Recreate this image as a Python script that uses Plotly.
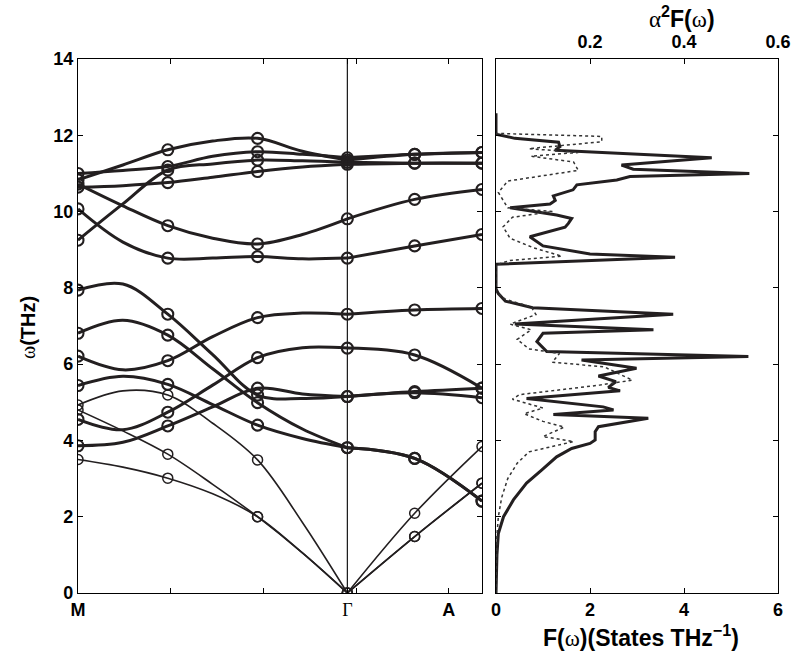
import plotly.graph_objects as go

# ---------------- band structure data ----------------
# x positions along path: M=0, Γ=3, A=4.5 (values read at these x)
x_path = [0, 0.5, 1, 1.5, 2, 2.5, 3, 3.75, 4.5]
marker_idx = [0, 2, 4, 6, 7, 8]   # sampled q-points (circles)
gamma_idx = 6

band_T1 = [10.83, 11.22, 11.62, 11.85, 11.92, 11.58, 11.35, 11.50, 11.55]
band_T2 = [11.00, 11.08, 11.18, 11.45, 11.57, 11.50, 11.41, 11.50, 11.55]
band_T3 = [9.25, 10.20, 11.09, 11.25, 11.35, 11.33, 11.29, 11.27, 11.27]
band_T4 = [10.64, 10.68, 10.76, 10.90, 11.05, 11.17, 11.24, 11.27, 11.27]
band_B98 = [10.72, 10.15, 9.63, 9.30, 9.15, 9.40, 9.81, 10.32, 10.58]
band_B88 = [10.07, 9.20, 8.78, 8.78, 8.82, 8.76, 8.78, 9.10, 9.40]
band_B79 = [7.94, 8.10, 7.31, 6.25, 5.19, 5.10, 5.15, 5.28, 5.37]
band_B68 = [6.81, 7.15, 6.76, 5.88, 4.99, 4.30, 3.81, 3.53, 2.41]
band_B62 = [6.21, 5.85, 6.09, 6.72, 7.22, 7.34, 7.31, 7.42, 7.46]
band_B54 = [5.44, 5.68, 5.47, 4.94, 4.40, 4.05, 3.81, 3.53, 2.41]
band_B45 = [4.55, 4.28, 4.74, 5.45, 6.17, 6.43, 6.42, 6.24, 5.37]
band_B38 = [3.86, 3.95, 4.38, 4.88, 5.37, 5.22, 5.15, 5.25, 5.12]
band_A1 = [3.50, 3.30, 3.01, 2.60, 2.00, 1.05, 0.00, 1.48, 2.88]
band_A2 = [4.80, 4.25, 3.64, 2.85, 2.00, 1.05, 0.00, 1.48, 2.88]
band_A3 = [4.93, 5.30, 5.19, 4.45, 3.49, 1.85, 0.00, 2.09, 3.84]

thick_bands = [band_T1, band_T2, band_T3, band_T4, band_B98, band_B88,
               band_B79, band_B68, band_B62, band_B54, band_B45, band_B38]
thin_bands = [band_A1, band_A2, band_A3]

# x tick positions / labels of the dispersion panel
path_tickvals = [0, 1.03, 2.07, 3.0, 3.1, 4.13]
path_ticktext = ['<b>M</b>', ' ', ' ',
                 '<span style="font-family:Liberation Serif;font-weight:normal">Γ</span>',
                 ' ', '<b>A</b>']

# ---------------- phonon DOS F(ω) ----------------
dos_freq = [0, 0.5, 1.0, 1.56, 2.0, 2.44, 2.88, 3.22, 3.57, 3.79, 3.92, 4.01, 4.23, 4.36,
            4.58, 4.68, 4.80, 4.88, 5.10, 5.30, 5.39, 5.54, 5.69, 5.89, 6.11, 6.20,
            6.33, 6.59, 6.81, 6.90, 7.05, 7.31, 7.48, 7.65, 7.85, 7.97, 8.62, 8.80,
            8.89, 9.10, 9.34, 9.59, 9.69, 9.82, 9.91, 10.10, 10.20, 10.29, 10.41,
            10.57, 10.70, 10.83, 10.92, 11.00, 11.11, 11.22, 11.41, 11.61, 11.70,
            11.82, 11.92, 12.03, 12.58]
dos_val = [0, 0.01, 0.02, 0.05, 0.16, 0.37, 0.65, 0.97, 1.29, 1.61, 2.00, 2.11, 2.11, 2.18,
           3.24, 1.22, 2.50, 2.28, 0.65, 2.64, 2.39, 2.55, 2.18, 2.99, 1.82, 5.37,
           1.08, 0.87, 1.00, 3.35, 0.40, 3.77, 0.78, 0.20, 0.05, 0.0, 0.0, 3.81,
           2.00, 1.00, 0.72, 1.47, 1.54, 1.61, 1.29, 0.30, 1.15, 1.26, 1.22,
           1.64, 1.72, 2.57, 2.85, 5.39, 2.92, 2.67, 4.59, 1.26, 1.36,
           1.33, 0.40, 0.0, 0.0]

# ---------------- Eliashberg function α²F(ω) ----------------
a2f_freq = [0, 1.5, 2.0, 2.5, 3.0, 3.4, 3.7, 3.97, 4.1, 4.35, 4.5, 4.7, 4.85, 5.08,
            5.2, 5.45, 5.58, 5.93, 6.05, 6.28, 6.4, 6.65, 6.9, 7.05, 7.3, 7.5, 7.7,
            7.9, 8.6, 8.72, 8.83, 9.05, 9.3, 9.6, 9.85, 10.0, 10.1, 10.5, 10.8,
            11.08, 11.3, 11.45, 11.55, 11.65, 11.83, 11.97, 12.05]
a2f_val = [0, 0.002, 0.005, 0.012, 0.025, 0.045, 0.07, 0.165, 0.10, 0.145, 0.10, 0.06, 0.10,
           0.035, 0.05, 0.22, 0.29, 0.23, 0.12, 0.135, 0.07, 0.045, 0.075, 0.03, 0.085,
           0.075, 0.02, 0.0, 0.0, 0.03, 0.14, 0.08, 0.03, 0.015, 0.035, 0.12, 0.025,
           0.005, 0.025, 0.175, 0.165, 0.075, 0.175, 0.07, 0.225, 0.225, 0.0]

INK = '#231f20'
fig = go.Figure()

def add_band(vals, width, msize, mwidth):
    # M-Γ segment
    fig.add_trace(go.Scatter(x=x_path[:gamma_idx + 1], y=vals[:gamma_idx + 1], mode='lines',
                             line=dict(color=INK, width=width, shape='spline', smoothing=1.0),
                             hoverinfo='skip', showlegend=False, xaxis='x', yaxis='y'))
    # Γ-A segment
    fig.add_trace(go.Scatter(x=x_path[gamma_idx:], y=vals[gamma_idx:], mode='lines',
                             line=dict(color=INK, width=width, shape='spline', smoothing=1.0),
                             hoverinfo='skip', showlegend=False, xaxis='x', yaxis='y'))
    fig.add_trace(go.Scatter(x=[x_path[i] for i in marker_idx], y=[vals[i] for i in marker_idx],
                             mode='markers',
                             marker=dict(symbol='circle-open', size=msize, color=INK,
                                         line=dict(width=mwidth, color=INK)),
                             showlegend=False, xaxis='x', yaxis='y'))

for b in thick_bands:
    add_band(b, 3.0, 11, 2.1)
for b in thin_bands:
    add_band(b, 1.6, 10, 1.5)

# DOS and α²F
fig.add_trace(go.Scatter(x=dos_val, y=dos_freq, mode='lines',
                         line=dict(color=INK, width=3.0), showlegend=False,
                         xaxis='x2', yaxis='y2'))
fig.add_trace(go.Scatter(x=a2f_val, y=a2f_freq, mode='lines',
                         line=dict(color='#333333', width=1.5, dash='dot'), showlegend=False,
                         xaxis='x3', yaxis='y2'))

FONT = 'Liberation Sans'
tickfont = dict(family=FONT, size=18, color='black', weight='bold')
ydom = [64 / 657, 598 / 657]
axis_common = dict(showline=True, linecolor='black', linewidth=1.3, ticks='inside',
                   ticklen=5, tickcolor='black', mirror='ticks', showgrid=False,
                   zeroline=False, tickfont=tickfont, automargin=False)

fig.update_layout(
    width=792, height=657,
    margin=dict(l=0, r=0, t=0, b=0, autoexpand=False),
    paper_bgcolor='white', plot_bgcolor='white',
    xaxis=dict(domain=[78 / 792, 482 / 792], range=[0, 4.5], tickmode='array',
               tickvals=path_tickvals, ticktext=path_ticktext, tickangle=0,
               anchor='y', **axis_common),
    yaxis=dict(domain=ydom, range=[0, 14], tickmode='array',
               tickvals=[0, 2, 4, 6, 8, 10, 12, 14], anchor='x', **axis_common),
    xaxis2=dict(domain=[496 / 792, 778 / 792], range=[0, 6], tickmode='array',
                tickvals=[0, 2, 4, 6], tickangle=0, anchor='y2', **axis_common),
    yaxis2=dict(domain=ydom, range=[0, 14], tickmode='array',
                tickvals=[0, 2, 4, 6, 8, 10, 12, 14], showticklabels=False,
                anchor='x2', **axis_common),
    xaxis3=dict(overlaying='x2', side='top', range=[0, 0.6], tickmode='array',
                tickvals=[0.2, 0.4, 0.6], ticktext=['0.2', '0.4', '0.6'], tickangle=0,
                anchor='y2', showline=False, ticks='inside', ticklen=5,
                ticklabelstandoff=6,
                tickcolor='black', showgrid=False, zeroline=False, tickfont=tickfont,
                automargin=False),
    shapes=[dict(type='line', xref='x', yref='y', x0=3, x1=3, y0=0, y1=14,
                 line=dict(color='black', width=1.1), layer='below')],
    annotations=[
        dict(text='<span style="font-family:Liberation Serif;font-weight:normal">ω</span>(THz)',
             xref='paper', yref='paper', x=28 / 792, y=(657 - 328) / 657, textangle=-90,
             xanchor='center', yanchor='middle',
             showarrow=False, font=dict(family=FONT, size=20, color='black', weight='bold')),
        dict(text='F(<span style="font-family:Liberation Serif;font-weight:normal">ω</span>)(States THz<sup>−1</sup>)',
             xref='paper', yref='paper', x=641 / 792, y=(657 - 636) / 657,
             xanchor='center', yanchor='middle',
             showarrow=False, font=dict(family=FONT, size=23, color='black', weight='bold')),
        dict(text='<span style="font-family:Liberation Serif;font-weight:normal">α</span><sup>2</sup>F(<span style="font-family:Liberation Serif;font-weight:normal">ω</span>)',
             xref='paper', yref='paper', x=682 / 792, y=(657 - 17) / 657,
             xanchor='center', yanchor='middle',
             showarrow=False, font=dict(family=FONT, size=23, color='black', weight='bold')),
    ],
)

fig.write_html('out.html', config={'displayModeBar': False},
               post_script=["document.body.style.margin='0';document.body.style.padding='0';"])
